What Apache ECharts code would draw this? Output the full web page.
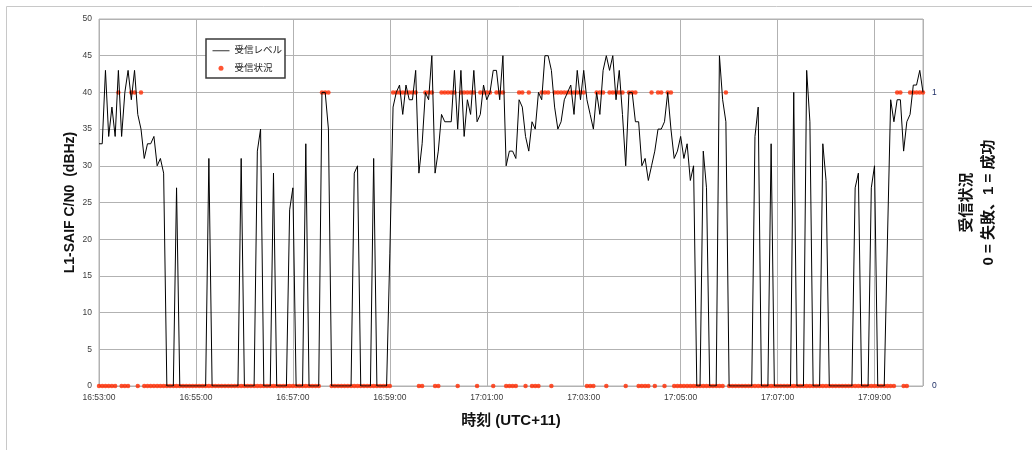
<!DOCTYPE html>
<html lang="ja">
<head>
    <meta charset="utf-8" />
    <title>受信レベル / 受信状況</title>
    <script type="text/javascript" src="https://cdn.jsdelivr.net/npm/echarts@6/dist/echarts.min.js"></script>
    <style type="text/css">
        html, body { margin: 0; padding: 0; background: #fff; }
    </style>
</head>
<body>

    <div id="main" style="width:1032px;height:450px;"></div>

    <script type="text/javascript">

        // x axis: seconds from 16:53:00, one sample every 4 s
        var sampleSec = 4;
        var tickLabels = ['16:53:00', '16:55:00', '16:57:00', '16:59:00', '17:01:00', '17:03:00', '17:05:00', '17:07:00', '17:09:00'];

        // 受信レベル  L1-SAIF C/N0 (dBHz), 2 minutes per row
        var levelArr = [
            33, 33, 43, 34, 38, 34, 43, 34, 40, 43, 39, 43, 37, 35, 31, 33, 33, 34, 30, 31, 29, 0, 0, 0, 27, 0, 0, 0, 0, 0,
            0, 0, 0, 0, 31, 0, 0, 0, 0, 0, 0, 0, 0, 0, 31, 0, 0, 0, 0, 32, 35, 0, 0, 0, 29, 0, 0, 0, 0, 24,
            27, 0, 0, 0, 33, 0, 0, 0, 0, 40, 40, 35, 0, 0, 0, 0, 0, 0, 0, 29, 30, 0, 0, 0, 0, 31, 0, 0, 0, 0,
            18, 38, 40, 41, 37, 41, 39, 39, 43, 29, 33, 40, 39, 45, 29, 32, 37, 36, 36, 36, 43, 35, 43, 34, 39, 37, 43, 36, 37, 41,
            39, 40, 43, 43, 39, 45, 30, 32, 32, 31, 39, 38, 34, 32, 36, 35, 40, 39, 45, 45, 43, 38, 35, 36, 39, 40, 41, 37, 43, 39,
            43, 39, 37, 35, 40, 37, 43, 45, 43, 45, 39, 43, 37, 30, 40, 40, 36, 36, 30, 31, 28, 30, 32, 35, 35, 36, 40, 35, 31, 32,
            34, 31, 33, 28, 30, 0, 0, 32, 27, 0, 0, 0, 45, 39, 36, 0, 0, 0, 0, 0, 0, 0, 0, 34, 38, 0, 0, 0, 33, 0,
            0, 0, 0, 0, 0, 40, 0, 0, 0, 43, 36, 0, 0, 0, 33, 28, 0, 0, 0, 0, 0, 0, 0, 0, 27, 29, 0, 0, 0, 27,
            30, 0, 0, 0, 20, 39, 36, 39, 39, 32, 36, 37, 41, 41, 43, 40
        ];

        // 受信状況  0 = 失敗, 1 = 成功
        var statusArr = [
            0, 0, 0, 0, 0, 0, 1, 0, 0, 0, 1, 1, 0, 1, 0, 0, 0, 0, 0, 0, 0, 0, 0, 0, 0, 0, 0, 0, 0, 0,
            0, 0, 0, 0, 0, 0, 0, 0, 0, 0, 0, 0, 0, 0, 0, 0, 0, 0, 0, 0, 0, 0, 0, 0, 0, 0, 0, 0, 0, 0,
            0, 0, 0, 0, 0, 0, 0, 0, 0, 1, 1, 1, 0, 0, 0, 0, 0, 0, 0, 0, 0, 0, 0, 0, 0, 0, 0, 0, 0, 0,
            0, 1, 1, 1, 1, 1, 1, 1, 1, 0, 0, 1, 1, 1, 0, 0, 1, 1, 1, 1, 1, 0, 1, 1, 1, 1, 1, 0, 1, 1,
            1, 1, 0, 1, 1, 1, 0, 0, 0, 0, 1, 1, 0, 1, 0, 0, 0, 1, 1, 1, 0, 1, 1, 1, 1, 1, 1, 1, 1, 1,
            1, 0, 0, 0, 1, 1, 1, 0, 1, 1, 1, 1, 1, 0, 1, 1, 1, 0, 0, 0, 0, 1, 0, 1, 1, 0, 1, 1, 0, 0,
            0, 0, 0, 0, 0, 0, 0, 0, 0, 0, 0, 0, 0, 0, 1, 0, 0, 0, 0, 0, 0, 0, 0, 0, 0, 0, 0, 0, 0, 0,
            0, 0, 0, 0, 0, 0, 0, 0, 0, 0, 0, 0, 0, 0, 0, 0, 0, 0, 0, 0, 0, 0, 0, 0, 0, 0, 0, 0, 0, 0,
            0, 0, 0, 0, 0, 0, 0, 1, 1, 0, 0, 1, 1, 1, 1, 1
        ];

        var fontFam = "'Liberation Sans', 'Noto Sans CJK JP', sans-serif";
        var gridColor = '#b2b2b2';

        function eachItem(arr, fn) {
            for (var i = 0; i < arr.length; i++) fn(i, arr[i]);
        }

        var levelData = [];
        var statusData = [];
        eachItem(levelArr, function (i, v) { levelData.push([i * sampleSec, v]); });
        eachItem(statusArr, function (i, v) { statusData.push([i * sampleSec, v]); });

        var myChart = echarts.init(document.getElementById('main'));

        var option = {
            animation: false,
            backgroundColor: '#fff',
            textStyle: { fontFamily: fontFam },
            graphic: [{
                type: 'rect',
                silent: true,
                shape: { x: 6.5, y: 6.5, width: 1200, height: 600 },
                style: { fill: 'none', stroke: '#c8c8c8', lineWidth: 1 }
            }],
            legend: {
                orient: 'vertical',
                left: 206,
                top: 39,
                itemWidth: 17,
                itemHeight: 5,
                itemGap: 8,
                padding: [7, 3, 5, 6],
                borderColor: '#3a3a3a',
                borderWidth: 1.5,
                backgroundColor: '#fff',
                textStyle: { fontSize: 9.5, color: '#222', fontFamily: fontFam },
                data: [
                    { name: '受信レベル', itemStyle: { opacity: 0 }, lineStyle: { width: 1, color: '#333' } },
                    { name: '受信状況', icon: 'circle' }
                ]
            },
            grid: {
                left: 99,
                right: 109,
                top: 19,
                bottom: 64,
                show: true,
                borderColor: gridColor,
                borderWidth: 1
            },
            xAxis: [{
                type: 'value',
                min: 0,
                max: 1020,
                interval: 120,
                axisLine: { show: false },
                axisTick: { show: false },
                splitLine: { lineStyle: { color: gridColor, width: 1 } },
                axisLabel: {
                    fontSize: 8.5,
                    color: '#3c3c3c',
                    margin: 7,
                    formatter: function (v) {
                        return tickLabels[v / 120] || '';
                    }
                },
                name: '時刻 (UTC+11)',
                nameLocation: 'middle',
                nameGap: 27,
                nameTextStyle: { fontSize: 15, fontWeight: 'bold', color: '#111', fontFamily: fontFam }
            }],
            yAxis: [{
                type: 'value',
                min: 0,
                max: 50,
                interval: 5,
                axisLine: { show: false },
                axisTick: { show: false },
                splitLine: { lineStyle: { color: gridColor, width: 1 } },
                axisLabel: { fontSize: 8.5, color: '#3c3c3c', margin: 7 },
                name: 'L1-SAIF C/N0  (dBHz)',
                nameLocation: 'middle',
                nameRotate: 90,
                nameGap: 22,
                nameMoveOverlap: false,
                nameTextStyle: { fontSize: 14, fontWeight: 'bold', color: '#111', fontFamily: fontFam }
            }, {
                type: 'value',
                position: 'right',
                min: 0,
                max: 1.25,
                interval: 1,
                axisLine: { show: false },
                axisTick: { show: false },
                splitLine: { show: false },
                axisLabel: {
                    fontSize: 8.5,
                    color: '#1f2f66',
                    margin: 9,
                    formatter: function (v) {
                        return (v === 0 || v === 1) ? String(v) : '';
                    }
                },
                name: '受信状況\n0 = 失敗、1 = 成功',
                nameLocation: 'middle',
                nameRotate: 90,
                nameGap: 33,
                nameTextStyle: { fontSize: 15, fontWeight: 'bold', color: '#111', lineHeight: 22, fontFamily: fontFam }
            }],
            series: [{
                name: '受信レベル',
                type: 'line',
                xAxisIndex: 0,
                yAxisIndex: 0,
                symbol: 'none',
                lineStyle: { color: '#000', width: 1 },
                itemStyle: { color: '#000' },
                data: levelData
            }, {
                name: '受信状況',
                type: 'scatter',
                xAxisIndex: 0,
                yAxisIndex: 1,
                symbolSize: 4.5,
                itemStyle: { color: '#ff2a00' },
                data: statusData
            }]
        };
        myChart.setOption(option, true);
    </script>
</body>
</html>
